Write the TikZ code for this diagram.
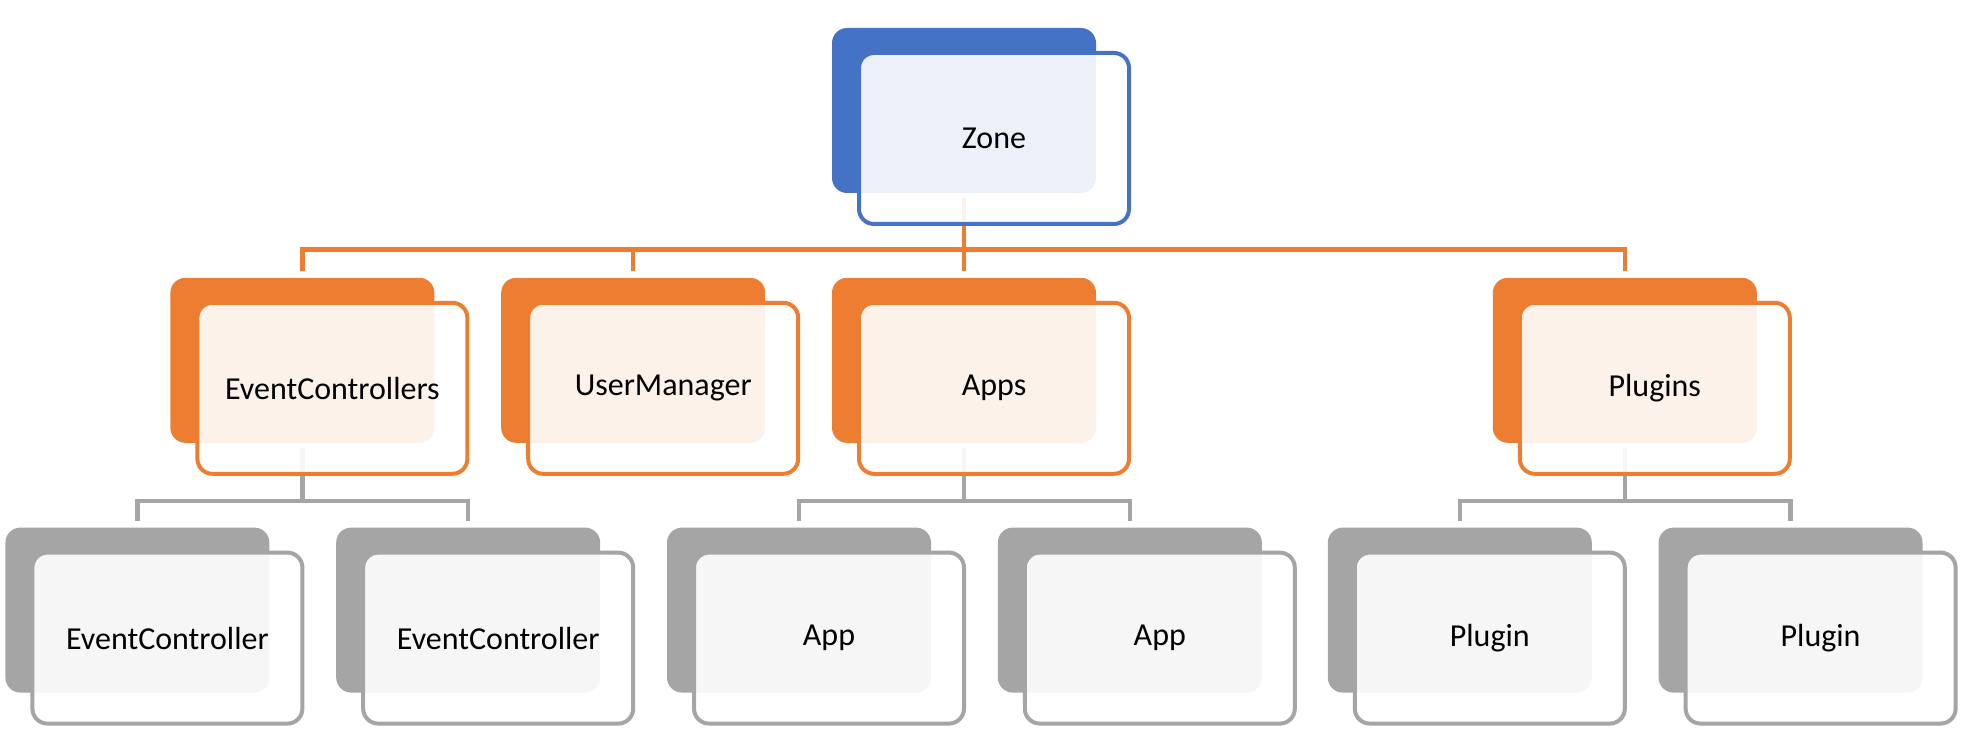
\documentclass[tikz,border=0pt]{standalone}
\usepackage{fontspec}
\setmainfont{Carlito}
\usepackage{xcolor}
\usetikzlibrary{positioning,backgrounds}

\definecolor{zoneblue}{HTML}{4472C4}
\definecolor{grouporange}{HTML}{ED7D31}
\definecolor{itemgray}{HTML}{A5A5A5}

\begin{document}
\begin{tikzpicture}[
    x=0.5pt, y=-0.5pt,
    backbox/.style={rectangle, rounded corners=7.5pt, fill=#1, minimum width=132pt, minimum height=82.5pt, inner sep=0pt},
    frontbox/.style={rectangle, rounded corners=7.5pt, draw=#1, line width=2pt, fill=white, fill opacity=0.9, text opacity=1, minimum width=135pt, minimum height=85.5pt, inner sep=0pt, text centered, font=\fontsize{16}{19}\selectfont},
    link/.style={draw=#1, line width=2.25pt}
]
    \useasboundingbox (0,0) rectangle (1961,747);

    % Top level
    \node[backbox=zoneblue] (zoneb) at (964,110.5) {};

    % Second level
    \node[backbox=grouporange, below=42pt of zoneb] (appsb) {};
    \node[backbox=grouporange, left=33pt of appsb] (umb) {};
    \node[backbox=grouporange, left=33pt of umb] (ecb) {};
    \node[backbox=grouporange, right=198pt of appsb] (plugb) {};

    % Third level
    \node[backbox=itemgray, below=42pt of ecb, xshift=-82.5pt] (ec1b) {};
    \node[backbox=itemgray, right=33pt of ec1b] (ec2b) {};
    \node[backbox=itemgray, below=42pt of appsb, xshift=-82.5pt] (app1b) {};
    \node[backbox=itemgray, right=33pt of app1b] (app2b) {};
    \node[backbox=itemgray, below=42pt of plugb, xshift=-82.5pt] (plug1b) {};
    \node[backbox=itemgray, right=33pt of plug1b] (plug2b) {};

    % Front boxes with the labels
    \node[frontbox=zoneblue] (zone) at ([shift={(15pt,-14pt)}]zoneb.center) {Zone};
    \node[frontbox=grouporange] (ec) at ([shift={(15pt,-14pt)}]ecb.center) {EventControllers};
    \node[frontbox=grouporange] (um) at ([shift={(15pt,-14pt)}]umb.center) {UserManager};
    \node[frontbox=grouporange] (apps) at ([shift={(15pt,-14pt)}]appsb.center) {Apps};
    \node[frontbox=grouporange] (plug) at ([shift={(15pt,-14pt)}]plugb.center) {Plugins};
    \node[frontbox=itemgray] (ec1) at ([shift={(15pt,-14pt)}]ec1b.center) {EventController};
    \node[frontbox=itemgray] (ec2) at ([shift={(15pt,-14pt)}]ec2b.center) {EventController};
    \node[frontbox=itemgray] (app1) at ([shift={(15pt,-14pt)}]app1b.center) {App};
    \node[frontbox=itemgray] (app2) at ([shift={(15pt,-14pt)}]app2b.center) {App};
    \node[frontbox=itemgray] (plug1) at ([shift={(15pt,-14pt)}]plug1b.center) {Plugin};
    \node[frontbox=itemgray] (plug2) at ([shift={(15pt,-14pt)}]plug2b.center) {Plugin};

    % Connectors, behind the boxes
    \begin{scope}[on background layer]
        \foreach \kid in {ecb,umb,appsb,plugb}
            \draw[link=grouporange] ([yshift=-2.5pt]zoneb.south) -- ++(0,-25.5pt) -| ([yshift=3pt]\kid.north);
        \foreach \parent/\kid in {ecb/ec1b,ecb/ec2b,appsb/app1b,appsb/app2b,plugb/plug1b,plugb/plug2b}
            \draw[link=itemgray] ([yshift=-2.5pt]\parent.south) -- ++(0,-26.5pt) -| ([yshift=3pt]\kid.north);
    \end{scope}
\end{tikzpicture}
\end{document}
